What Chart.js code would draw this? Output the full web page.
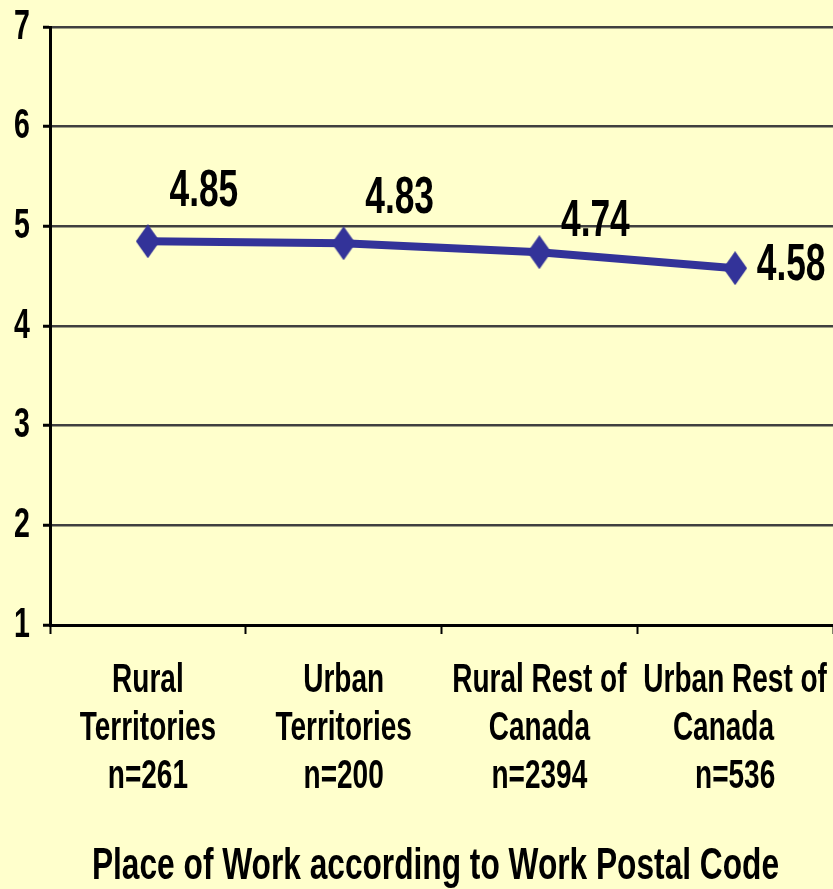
<!DOCTYPE html>
<html>
<head>
<meta charset="utf-8">
<script src="https://cdn.jsdelivr.net/npm/chart.js@4"></script>
<style>
  html, body { margin: 0; padding: 0; background: #ffffcc; }
  canvas { display: block; }
</style>
</head>
<body>
<canvas id="chart" width="833" height="889"></canvas>
<script>
// data
const categories = [
  ["Rural", "Territories", "n=261"],
  ["Urban", "Territories", "n=200"],
  ["Rural Rest of", "Canada", "n=2394"],
  ["Urban Rest of", "Canada   ", "n=536"]
];
const values = [4.85, 4.83, 4.74, 4.58];
const yTicks = [1, 2, 3, 4, 5, 6, 7];
const axisTitle = "Place of Work according to Work Postal Code";

// where each value label sits relative to its point (Excel put them up/right)
const labelDx = 56;
const labelDy = [-50, -45, -31, -3];

// no Arial Narrow here, so squeeze Liberation Sans sideways instead
const FONT = '"Liberation Sans", Arial, sans-serif';
const NARROW = 0.68;

const xTickFont = { size: 40, lineHeight: 48 };
const xTickPad = 23;

function drawNarrow(ctx, text, x, y, sx, align) {
  ctx.save();
  ctx.translate(x, y);
  ctx.scale(sx, 1);
  ctx.textAlign = align || "center";
  ctx.fillText(text, 0, 0);
  ctx.restore();
}

// tall diamond marker
function makeDiamond() {
  let c = document.createElement("canvas");
  c.width = 24;
  c.height = 34;
  let g = c.getContext("2d");
  g.fillStyle = "#333399";
  g.beginPath();
  g.moveTo(12, 0);
  g.lineTo(24, 17);
  g.lineTo(12, 34);
  g.lineTo(0, 17);
  g.closePath();
  g.fill();
  return c;
}

const bgPlugin = {
  id: "bg",
  beforeDraw(chart) {
    let ctx = chart.ctx;
    ctx.save();
    ctx.fillStyle = "#ffffcc";
    ctx.fillRect(0, 0, chart.width, chart.height);
    ctx.restore();
  }
};

// axis texts drawn by hand so they can be condensed
const axisText = {
  id: "axisText",
  afterDraw(chart) {
    let ctx = chart.ctx;
    let xs = chart.scales.x;
    let ys = chart.scales.y;
    ctx.save();
    ctx.fillStyle = "#000";
    ctx.textBaseline = "middle";

    // y tick numbers
    ctx.font = "bold 42px " + FONT;
    let yRight = ys.right - 7 - 13;
    yTicks.forEach(v => {
      drawNarrow(ctx, String(v), yRight, ys.getPixelForValue(v), NARROW, "right");
    });

    // category labels
    ctx.font = "bold " + xTickFont.size + "px " + FONT;
    categories.forEach((lines, i) => {
      let x = xs.getPixelForTick(i);
      lines.forEach((line, j) => {
        let y = xs.top + 9 + xTickPad + xTickFont.lineHeight * (j + 0.5);
        drawNarrow(ctx, line, x, y, 0.7);
      });
    });

    // axis title
    ctx.font = "bold 44px " + FONT;
    let area = chart.chartArea;
    drawNarrow(ctx, axisTitle, (area.left + area.right) / 2 - 6, chart.height - 22, 0.72);

    // value labels
    ctx.font = "bold 52px " + FONT;
    let meta = chart.getDatasetMeta(0);
    meta.data.forEach((pt, i) => {
      drawNarrow(ctx, values[i].toFixed(2), pt.x + labelDx, pt.y + labelDy[i], NARROW);
    });
    ctx.restore();
  }
};

new Chart(document.getElementById("chart"), {
  type: "line",
  data: {
    labels: categories,
    datasets: [{
      data: values,
      borderColor: "#333399",
      borderWidth: 8,
      pointStyle: makeDiamond(),
      pointRadius: 13,
      pointHoverRadius: 13,
      tension: 0,
      fill: false,
      clip: false
    }]
  },
  options: {
    responsive: false,
    animation: false,
    events: [],
    layout: { autoPadding: false, padding: { top: 27, left: 0, right: 0, bottom: 0 } },
    plugins: {
      legend: { display: false },
      tooltip: { enabled: false }
    },
    scales: {
      x: {
        type: "category",
        offset: true,
        grid: {
          offset: true,
          drawOnChartArea: false,
          drawTicks: true,
          tickLength: 9,
          tickColor: "#000",
          tickWidth: 2
        },
        border: { color: "#000", width: 3 },
        ticks: {
          color: "rgba(0,0,0,0)",
          font: { family: FONT, size: 10 },
          maxRotation: 0,
          autoSkip: false
        },
        afterFit(scale) {
          scale.height = 264;
          scale.paddingLeft = 0;
          scale.paddingRight = 0;
        }
      },
      y: {
        min: yTicks[0],
        max: yTicks[yTicks.length - 1],
        afterBuildTicks(scale) {
          scale.ticks = yTicks.map(v => ({ value: v }));
        },
        grid: {
          color: "#404040",
          lineWidth: 2.5,
          tickColor: "#000",
          tickLength: 7,
          tickWidth: 3
        },
        border: { color: "#000", width: 3 },
        ticks: {
          color: "rgba(0,0,0,0)",
          font: { family: FONT, size: 10 }
        },
        afterFit(scale) {
          scale.width = 50;
        }
      }
    }
  },
  plugins: [bgPlugin, axisText]
});
</script>
</body>
</html>
